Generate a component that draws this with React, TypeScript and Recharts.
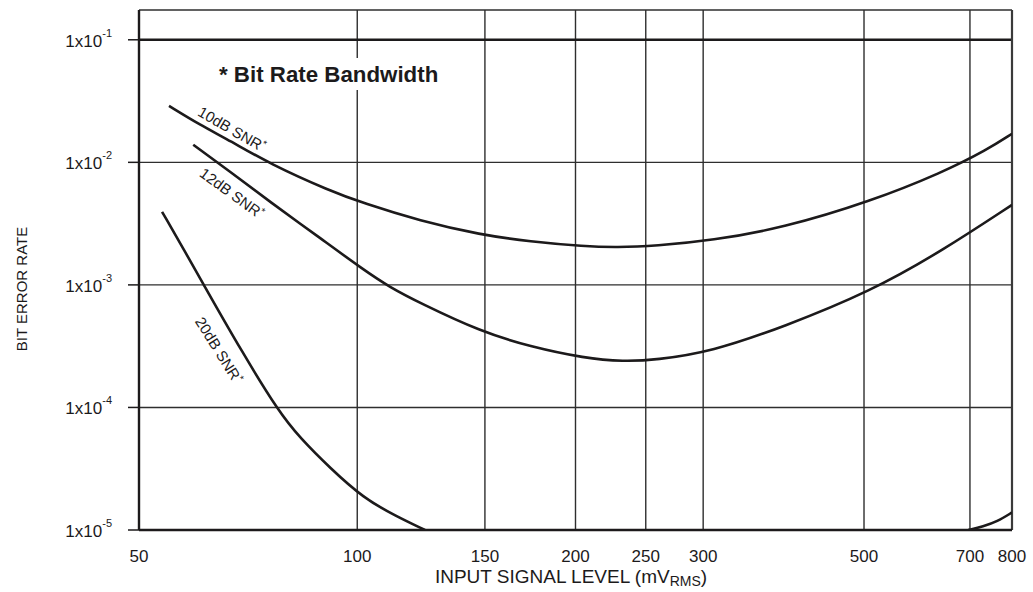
import React from 'react';
import { LineChart, Line, XAxis, YAxis, CartesianGrid, ReferenceLine } from 'recharts';

// axis ticks
const X_TICKS = [50, 100, 150, 200, 250, 300, 500, 700, 800];
const Y_TICKS = [1e-5, 1e-4, 1e-3, 1e-2, 1e-1];

// curves: input level (mV rms) vs bit error rate
const SNR10_MV = [55, 60.7, 66.8, 75.8, 91.7, 102, 122, 148, 173, 206, 228, 258, 308, 387, 510, 641, 739, 800];
const SNR10_BER = [0.0289, 0.0202, 0.015, 0.0097, 0.00585, 0.00464, 0.00333, 0.00256, 0.00226, 0.00206, 0.00202, 0.00208, 0.0023, 0.00292, 0.00479, 0.00825, 0.01265, 0.0171];

const SNR12_MV = [59.4, 66.8, 75.8, 88.8, 102, 111, 122, 148, 173, 206, 233, 258, 308, 387, 510, 641, 800];
const SNR12_BER = [0.0139, 0.00837, 0.00476, 0.00242, 0.00133, 0.000954, 0.000713, 0.000416, 0.000314, 0.000252, 0.000237, 0.000244, 0.000285, 0.000454, 0.000882, 0.0019, 0.0045];

// 20dB curve drops below 1e-5 and comes back in at the far right
const SNR20_MV = [53.8, 57.9, 61.7, 69.2, 78, 83.4, 91.7, 102, 113, 124, 300, 696, 730, 763, 800];
const SNR20_BER = [0.00395, 0.00186, 0.000954, 0.00029, 0.0000915, 0.0000564, 0.0000321, 0.0000182, 0.000013, 0.00001, null, 0.00001, 0.0000107, 0.0000117, 0.0000139];

const toPoints = (mv: number[], ber: (number | null)[]) => mv.map((v, i) => ({ mv: v, ber: ber[i] }));

const snr10 = toPoints(SNR10_MV, SNR10_BER);
const snr12 = toPoints(SNR12_MV, SNR12_BER);
const snr20 = toPoints(SNR20_MV, SNR20_BER);

const FONT = '"Liberation Sans", Arial, Helvetica, sans-serif';
const INK = '#1c1a1b';

function BerTick({ x, y, payload }: any) {
    const exp = Math.round(Math.log10(payload.value));
    return (
        <text x={x} y={y} textAnchor="end" fill={INK} fontFamily={FONT} fontSize={17}>
            <tspan dy={7}>1x10</tspan>
            <tspan dy={-10} fontSize={11}>{exp}</tspan>
        </text>
    );
}

export default function App() {
    return (
        <div style={{ position: 'absolute', left: 0, top: 0, width: 1033, height: 592, background: '#fff' }}>
            <LineChart width={1033} height={592} margin={{ top: 10, right: 21, bottom: 0, left: 0 }}>
                <CartesianGrid stroke="#2e2e2e" strokeWidth={1.4} />
                <XAxis
                    dataKey="mv"
                    type="number"
                    scale="log"
                    domain={[50, 800]}
                    ticks={X_TICKS}
                    allowDataOverflow
                    height={62}
                    tickLine={false}
                    tickMargin={14}
                    axisLine={{ stroke: INK, strokeWidth: 2.3 }}
                    tick={{ fill: INK, fontSize: 17, fontFamily: FONT }}
                />
                <YAxis
                    dataKey="ber"
                    type="number"
                    scale="log"
                    domain={[1e-5, 0.175]}
                    ticks={Y_TICKS}
                    allowDataOverflow
                    width={139}
                    tickSize={11}
                    tickMargin={16}
                    tickLine={{ stroke: INK, strokeWidth: 1.5 }}
                    axisLine={{ stroke: INK, strokeWidth: 2.4 }}
                    tick={<BerTick />}
                />
                <ReferenceLine y={1e-1} stroke={INK} strokeWidth={2.4} />
                <ReferenceLine x={800} stroke="#3a3a3a" strokeWidth={2.2} />
                <Line data={snr10} dataKey="ber" type="basis" stroke={INK} strokeWidth={2.6} dot={false} isAnimationActive={false} />
                <Line data={snr12} dataKey="ber" type="basis" stroke={INK} strokeWidth={2.6} dot={false} isAnimationActive={false} />
                <Line data={snr20} dataKey="ber" type="basis" stroke={INK} strokeWidth={2.6} dot={false} connectNulls={false} isAnimationActive={false} />
            </LineChart>

            {/* titles and curve labels */}
            <svg width={1033} height={592} style={{ position: 'absolute', left: 0, top: 0, pointerEvents: 'none' }} fontFamily={FONT} fill={INK}>
                <text transform="translate(27,289) rotate(-90)" textAnchor="middle" fontSize={15}>BIT ERROR RATE</text>
                <text x={571} y={583} textAnchor="middle" fontSize={19}>
                    INPUT SIGNAL LEVEL (mV<tspan fontSize={14} dy={3}>RMS</tspan><tspan dy={-3}>)</tspan>
                </text>
                <rect x={216} y={58} width={228} height={32} fill="#fff" />
                <text x={219} y={82} fontSize={22.3} fontWeight="bold">* Bit Rate Bandwidth</text>
                <text transform="translate(232,129) rotate(30)" textAnchor="middle" dominantBaseline="central" fontSize={15}>
                    10dB SNR<tspan fontSize={10} dy={-4}>*</tspan>
                </text>
                <text transform="translate(232,193) rotate(36)" textAnchor="middle" dominantBaseline="central" fontSize={15}>
                    12dB SNR<tspan fontSize={10} dy={-4}>*</tspan>
                </text>
                <text transform="translate(219,350) rotate(58)" textAnchor="middle" dominantBaseline="central" fontSize={15}>
                    20dB SNR<tspan fontSize={10} dy={-4}>*</tspan>
                </text>
            </svg>
        </div>
    );
}
